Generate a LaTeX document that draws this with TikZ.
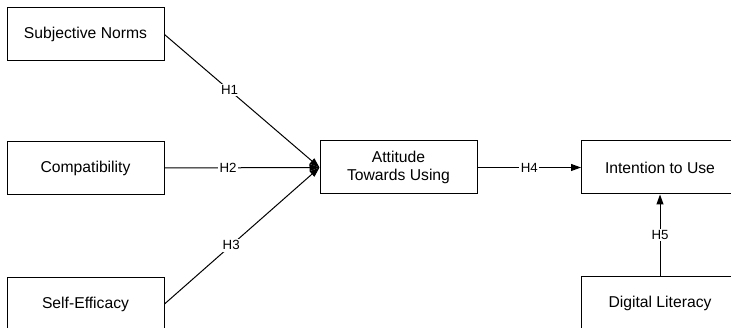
\documentclass[tikz,border=0pt]{standalone}
\usepackage{fontspec}
\setmainfont{Liberation Sans}
\usepackage{tikz}
\usetikzlibrary{arrows.meta}

\begin{document}
\begin{tikzpicture}[x=1pt, y=-1pt,
  caja/.style={draw, line width=1pt, minimum width=157pt, minimum height=53pt,
    inner sep=0pt, align=center, font=\fontsize{15.7}{18.5}\selectfont},
  flecha/.style={line width=1pt, -{Triangle[length=10pt,width=7pt]}},
  etiqueta/.style={fill=white, inner sep=1.5pt, font=\fontsize{13.3}{15}\selectfont}]
\useasboundingbox (0,0) rectangle (731,328);
\clip (0,0) rectangle (731,328);

% Constructos
\node[caja] (normas) at (85.5,34.5) {Subjective Norms};
\node[caja] (compat) at (85.5,168) {Compatibility};
\node[caja] (eficacia) at (85.5,304) {Self-Efficacy};
\node[caja] (actitud) at (398.5,167.5) {Attitude\\Towards Using};
\node[caja] (intencion) at (660,167.5) {Intention to Use};
\node[caja] (literacidad) at (660,303) {Digital Literacy};

% Hipotesis
\draw[flecha] (normas.east) -- (actitud.west) node[etiqueta, pos=0.42] {H1};
\draw[flecha] (compat.east) -- (actitud.west) node[etiqueta, pos=0.41] {H2};
\draw[flecha] (eficacia.east) -- (actitud.west) node[etiqueta, pos=0.43] {H3};
\draw[flecha] (actitud.east) -- (intencion.west) node[etiqueta, pos=0.5] {H4};
\draw[flecha] (literacidad.north) -- (intencion.south) node[etiqueta, pos=0.5] {H5};
\end{tikzpicture}
\end{document}
